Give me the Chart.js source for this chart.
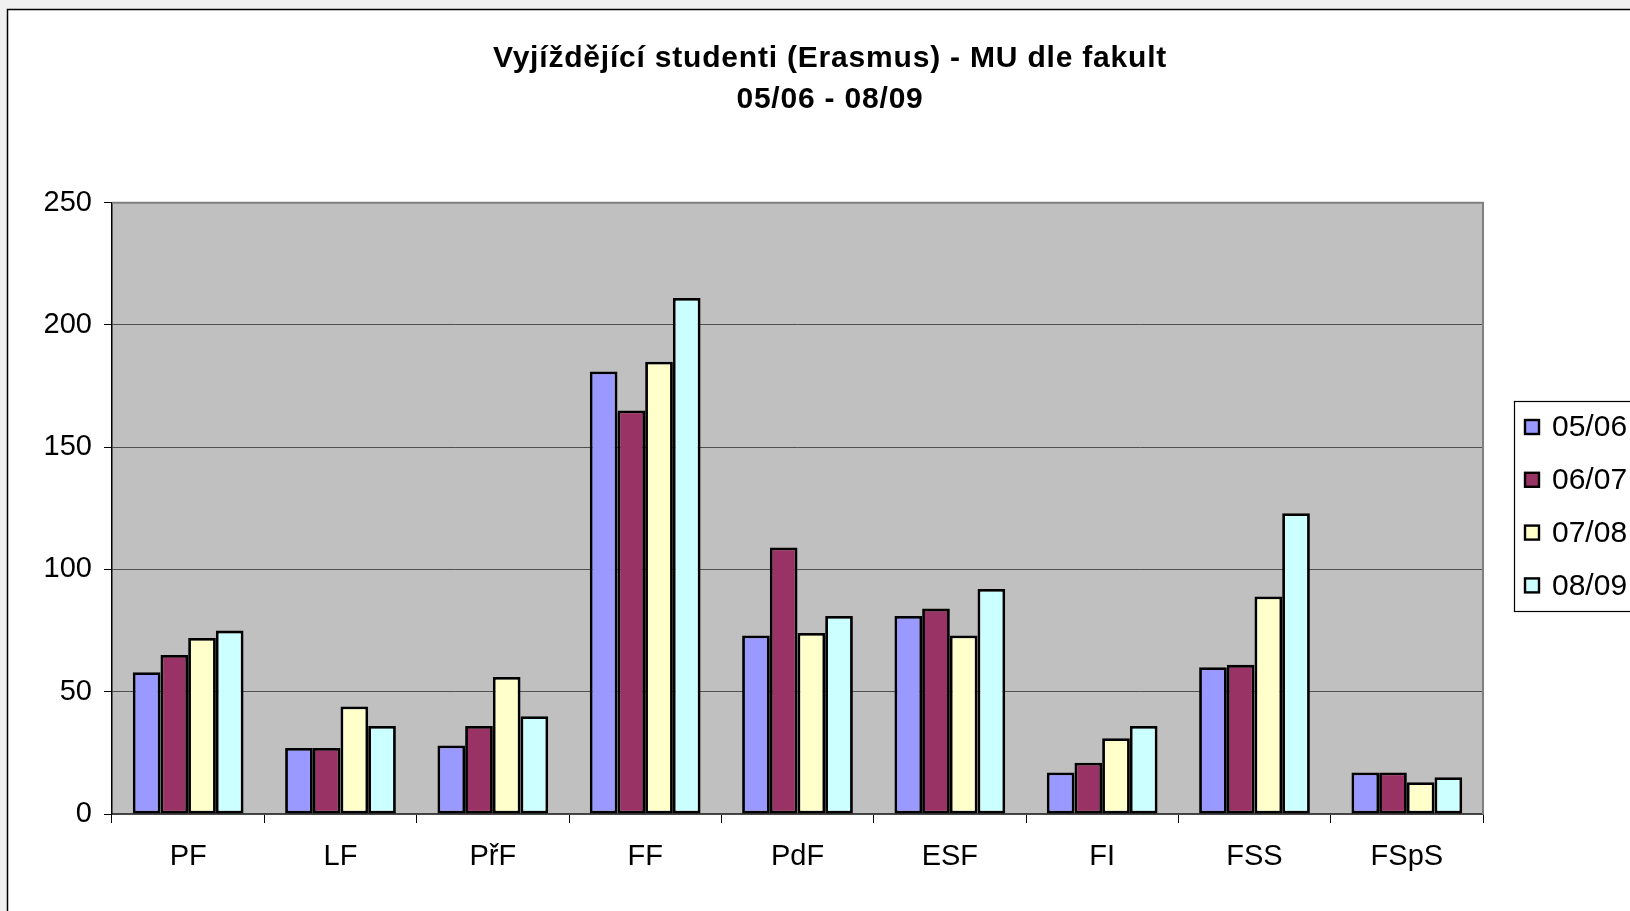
<!DOCTYPE html>
<html lang="cs">
<head>
    <meta charset="UTF-8">
    <title>Vyjíždějící studenti (Erasmus)</title>
    <style>
        html, body { margin: 0; padding: 0; background: #f0f0f0; overflow: hidden; }
        #wrap { width: 1630px; height: 911px; }
    </style>
</head>
<body>
    <div id="wrap"><canvas id="myChart" width="1630" height="911"></canvas></div>
    <script src="https://cdn.jsdelivr.net/npm/chart.js@4/dist/chart.umd.min.js"></script>
    <script>
        // data
        const fakulty = ['PF', 'LF', 'PřF', 'FF', 'PdF', 'ESF', 'FI', 'FSS', 'FSpS'];
        const roky = ['05/06', '06/07', '07/08', '08/09'];
        const r0506 = [58, 27, 28, 181, 73, 81, 17, 60, 17];
        const r0607 = [65, 27, 36, 165, 109, 84, 21, 61, 17];
        const r0708 = [72, 44, 56, 185, 74, 73, 31, 89, 13];
        const r0809 = [75, 36, 40, 211, 81, 92, 36, 123, 15];
        const yTicks = [0, 50, 100, 150, 200, 250];

        const barvy = ['#9999FF', '#993366', '#FFFFCC', '#CCFFFF'];
        const FONT = "'Liberation Sans', Arial, sans-serif";

        // frame, grey plot area, legend box
        const pozadi = {
            id: 'pozadi',
            afterLayout(chart) {
                // title in the original is centred on the whole frame, not the plot
                const t = chart.titleBlock;
                if (!t) return;
                t.left = 30;
                t.right = 1630;
                if (!t._spaced) {
                    const d = t.draw;
                    t.draw = function (a) {
                        const c = this.ctx;
                        c.save();
                        c.letterSpacing = '0.8px';
                        d.call(this, a);
                        c.restore();
                    };
                    t._spaced = true;
                }
            },
            beforeDraw(chart) {
                const ctx = chart.ctx;
                const a = chart.chartArea;
                ctx.save();
                ctx.fillStyle = '#ffffff';
                ctx.fillRect(8, 10, chart.width, chart.height);
                ctx.strokeStyle = '#000';
                ctx.lineWidth = 1.5;
                ctx.beginPath();
                ctx.moveTo(7.5, chart.height + 5);
                ctx.lineTo(7.5, 9.5);
                ctx.lineTo(chart.width + 5, 9.5);
                ctx.stroke();
                ctx.fillStyle = '#C0C0C0';
                ctx.fillRect(a.left, a.top, a.right - a.left, a.bottom - a.top);
                ctx.restore();
            },
            afterDatasetsDraw(chart) {
                const ctx = chart.ctx;
                const a = chart.chartArea;
                ctx.save();
                ctx.strokeStyle = '#808080';
                ctx.lineWidth = 2;
                ctx.beginPath();
                ctx.moveTo(a.left, a.top);
                ctx.lineTo(a.right, a.top);
                ctx.lineTo(a.right, a.bottom);
                ctx.stroke();
                ctx.restore();
            },
            afterDraw(chart) {
                const ctx = chart.ctx;
                ctx.save();
                ctx.strokeStyle = '#000';
                ctx.lineWidth = 1.2;
                ctx.strokeRect(1514.5, 401.5, 200, 210);
                ctx.font = '30px ' + FONT;
                ctx.textBaseline = 'middle';
                chart.data.datasets.forEach((ds, i) => {
                    const y = 427 + i * 52.8;
                    ctx.fillStyle = ds.backgroundColor;
                    ctx.fillRect(1525, y - 7, 14, 14);
                    ctx.lineWidth = 2.4;
                    ctx.strokeRect(1525, y - 7, 14, 14);
                    ctx.fillStyle = '#000';
                    ctx.fillText(ds.label, 1552, y + 1);
                });
                ctx.restore();
            }
        };

        const rady = [r0506, r0607, r0708, r0809];
        const datasets = roky.map((rok, i) => ({
            label: rok,
            data: rady[i],
            backgroundColor: barvy[i],
            borderColor: '#000',
            borderWidth: 2.8,
            borderSkipped: false,
            categoryPercentage: 0.727,
            barPercentage: 1.0
        }));

        const ctx = document.getElementById('myChart').getContext('2d');
        const myChart = new Chart(ctx, {
            type: 'bar',
            data: { labels: fakulty, datasets: datasets },
            plugins: [pozadi],
            options: {
                responsive: false,
                animation: false,
                layout: { padding: { left: 0, right: 147, top: 0, bottom: 0 } },
                plugins: {
                    legend: { display: false },
                    tooltip: { enabled: false },
                    title: {
                        display: true,
                        text: ['Vyjíždějící studenti (Erasmus) - MU dle fakult', '05/06 - 08/09'],
                        color: '#000',
                        font: { family: FONT, size: 30, weight: 'bold', lineHeight: 1.37 },
                        padding: { top: 38, bottom: 82.5 }
                    }
                },
                scales: {
                    x: {
                        grid: {
                            offset: true,
                            drawOnChartArea: false,
                            tickLength: 9,
                            tickColor: '#000',
                            tickWidth: 1
                        },
                        border: { color: '#404040', width: 1.5 },
                        ticks: { color: '#000', padding: 17, font: { family: FONT, size: 29 } },
                        afterFit: s => { s.height = 97; }
                    },
                    y: {
                        min: 0,
                        max: 250,
                        afterBuildTicks: s => { s.ticks = yTicks.map(v => ({ value: v })); },
                        grid: {
                            color: '#505050',
                            lineWidth: 1,
                            tickLength: 8,
                            tickColor: '#000'
                        },
                        border: { color: '#000', width: 1.5 },
                        ticks: { color: '#000', padding: 12, font: { family: FONT, size: 29 } },
                        afterFit: s => { s.width = 112; }
                    }
                }
            }
        });
    </script>
</body>
</html>
